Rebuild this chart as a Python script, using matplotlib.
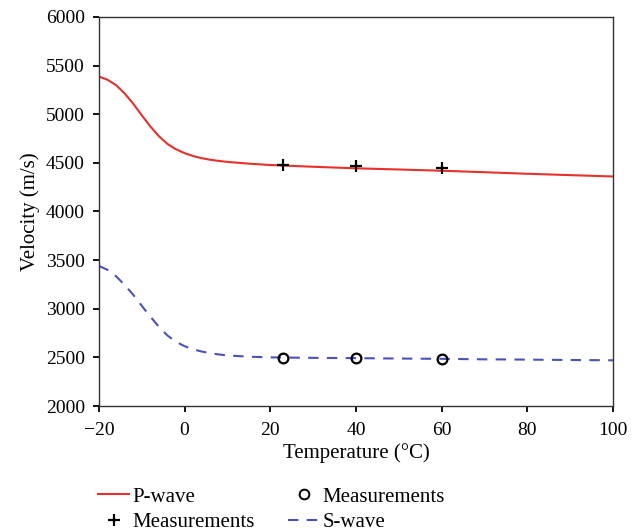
import matplotlib
matplotlib.use("Agg")
import matplotlib.pyplot as plt
from matplotlib.lines import Line2D

plt.rcParams['font.family'] = ['Liberation Serif', 'DejaVu Serif']

p_temp = [-20, -18, -16, -14, -12, -10, -8, -6, -4, -2, 0, 2, 4, 6, 8, 10, 15, 20, 30, 40, 50, 60, 70, 80, 90, 100]
p_vel = [5388, 5355, 5300, 5215, 5110, 4990, 4875, 4775, 4695, 4640, 4600, 4570, 4548, 4532, 4520, 4510, 4492, 4478, 4460, 4444, 4432, 4419, 4404, 4388, 4374, 4360]

s_temp = [-20, -18, -16, -14, -12, -10, -8, -6, -4, -2, 0, 2, 4, 6, 8, 10, 15, 20, 30, 40, 50, 60, 70, 80, 90, 100]
s_vel = [3441, 3400, 3335, 3245, 3145, 3030, 2920, 2815, 2725, 2660, 2615, 2583, 2560, 2543, 2530, 2520, 2507, 2500, 2495, 2492, 2488, 2485, 2480, 2477, 2473, 2470]

meas_temp = [23, 40, 60]
p_meas = [4480, 4465, 4450]
s_meas = [2495, 2492, 2487]

x_ticks = [-20, 0, 20, 40, 60, 80, 100]
y_ticks = [2000, 2500, 3000, 3500, 4000, 4500, 5000, 5500, 6000]

fig = plt.figure(figsize=(6.42, 5.31), dpi=100)
ax = fig.add_axes([0.154, 0.2354, 0.801, 0.7326])

red = '#e8302a'
blue = '#4b50be'
dash = (0, (5, 4))

ax.plot(p_temp, p_vel, color=red, lw=1.5, zorder=2)
ax.plot(s_temp, s_vel, color=blue, lw=1.5, ls=dash, zorder=2)
ax.plot(meas_temp, p_meas, ls='none', marker='+', ms=8, mew=1.6, color='black', zorder=3)
ax.plot(meas_temp, s_meas, ls='none', marker='o', ms=7, mew=1.6, mfc='none', mec='black', zorder=3)

ax.set_xlim(-20, 100)
ax.set_ylim(2000, 6000)
ax.set_xticks(x_ticks)
ax.set_yticks(y_ticks)
ax.set_xticklabels(['\u221220' if t == -20 else str(t) for t in x_ticks])
ax.tick_params(direction='out', length=4, width=1.3, labelsize=14, colors='black')
ax.tick_params(axis='y', pad=6)
ax.tick_params(axis='x', pad=7.5)
for s in ax.spines.values():
    s.set_linewidth(1.0)
    s.set_color('#333333')

ax.set_xlabel('Temperature (\u00b0C)', fontsize=15, labelpad=3)
ax.set_ylabel('Velocity (m/s)', fontsize=15, labelpad=4)

handles = [
    Line2D([], [], color=red, lw=1.5),
    Line2D([], [], ls='none', marker='+', ms=8, mew=1.6, color='black'),
    Line2D([], [], ls='none', marker='o', ms=7, mew=1.4, mfc='none', mec='black'),
    Line2D([], [], color=blue, lw=1.5, ls=dash),
]
labels = ['P-wave', 'Measurements', 'Measurements', 'S-wave']
fig.legend(handles, labels, ncol=2, loc='upper left', bbox_to_anchor=(0.1527, 0.083),
           frameon=False, fontsize=15, handlelength=1.5, handletextpad=0.15,
           columnspacing=1.6, labelspacing=0.3, borderaxespad=0, borderpad=0)

fig.savefig('out.png', dpi=100)
